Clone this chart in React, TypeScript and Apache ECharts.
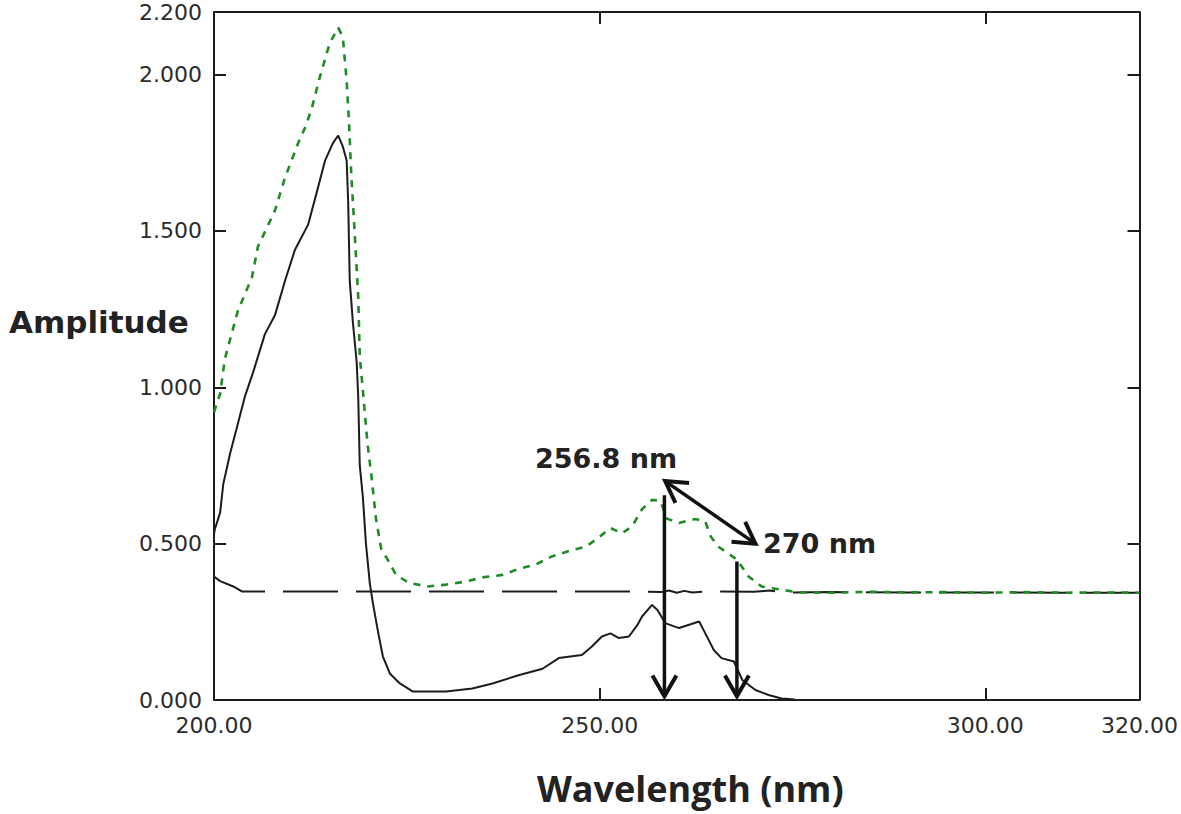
import React, { useEffect, useRef } from "react";
import * as echarts from "echarts";

// ---- data ----
const xTicks = [200, 250, 300, 320];
const xInnerTicks = [250, 300];
const yTicks = [0, 0.5, 1.0, 1.5, 2.0, 2.2];
const yInnerTicks = [0.5, 1.0, 1.5, 2.0];

const blackSolid: number[][] = [
  [200, 0.53], [200.1, 0.545], [200.8, 0.6], [201.2, 0.69], [202.1, 0.79], [202.9, 0.865],
  [204.0, 0.97], [205.1, 1.05], [206.6, 1.17], [207.9, 1.23], [209.2, 1.34], [210.5, 1.44],
  [212.2, 1.52], [213.5, 1.64], [214.4, 1.725], [215.4, 1.78], [216.1, 1.805], [216.7, 1.77],
  [217.2, 1.725], [217.4, 1.59], [217.6, 1.34], [218.0, 1.21], [218.5, 1.08], [218.7, 0.97],
  [218.9, 0.75], [219.3, 0.65], [219.7, 0.5], [220.2, 0.374], [220.6, 0.31], [221.3, 0.214],
  [221.9, 0.139], [222.8, 0.085], [224.1, 0.053], [225.8, 0.027], [230.1, 0.027], [233.5, 0.037],
  [236.1, 0.053], [239.6, 0.08], [242.6, 0.1], [244.7, 0.134], [247.7, 0.144], [249.0, 0.171],
  [250.3, 0.203], [251.4, 0.213], [252.5, 0.198], [253.8, 0.203], [254.9, 0.24], [255.5, 0.267],
  [256.8, 0.304], [257.5, 0.288], [258.5, 0.246], [260.3, 0.23], [262.9, 0.251], [263.7, 0.213],
  [264.8, 0.16], [265.8, 0.134], [267.4, 0.123], [268.5, 0.064], [270.2, 0.032], [271.9, 0.016],
  [273.6, 0.005], [275.3, 0.002],
];

const greenDotted: number[][] = [
  [200, 0.92], [200.8, 0.98], [201.4, 1.09], [203.1, 1.245], [204.9, 1.35], [205.7, 1.45],
  [207.9, 1.565], [209.2, 1.67], [210.9, 1.78], [211.8, 1.83], [212.6, 1.885], [213.7, 1.99],
  [215.0, 2.1], [216.1, 2.15], [216.7, 2.12], [217.2, 1.98], [217.5, 1.85], [217.8, 1.68],
  [218.2, 1.51], [218.7, 1.29], [218.9, 1.1], [219.3, 0.99], [219.9, 0.82], [220.4, 0.72],
  [221.0, 0.58], [221.7, 0.48], [222.5, 0.45], [223.6, 0.4], [225.3, 0.374], [227.7, 0.363],
  [230.1, 0.369], [232.7, 0.379], [234.8, 0.392], [237.4, 0.4], [239.6, 0.42], [241.7, 0.433],
  [243.9, 0.46], [246.5, 0.48], [248.2, 0.49], [249.9, 0.52], [251.4, 0.55], [252.9, 0.533],
  [254.2, 0.555], [255.5, 0.61], [256.8, 0.64], [257.9, 0.636], [258.7, 0.58], [260.3, 0.566],
  [262.4, 0.579], [263.7, 0.571], [264.4, 0.523], [265.4, 0.49], [267.8, 0.449], [269.3, 0.395],
  [271.0, 0.363], [273.2, 0.354], [275.8, 0.344], [280, 0.343], [285, 0.346], [290, 0.344],
  [295, 0.345], [300, 0.343], [305, 0.345], [310, 0.343], [315, 0.344], [320, 0.343],
];

const blackDashed: number[][] = [
  [200, 0.395], [200.8, 0.38], [202.5, 0.363], [203.6, 0.347], [230, 0.347], [255, 0.347],
  [258, 0.345], [259, 0.35], [260, 0.343], [261, 0.349], [262, 0.344], [264, 0.347],
  [270, 0.346], [272, 0.35], [274, 0.343], [280, 0.345], [290, 0.344], [300, 0.344],
  [310, 0.343], [320, 0.343],
];

// arrows: [x1, y1, x2, y2, doubleHeaded]
const arrows: number[][] = [
  [258.4, 0.655, 258.4, 0.012, 0],
  [267.8, 0.443, 267.8, 0.012, 0],
  [258.5, 0.7, 270.2, 0.5, 1],
];

const labelFont = "'DejaVu Sans', sans-serif";
const ink = "#1c1c1c";

export default function App() {
  const ref = useRef<HTMLDivElement>(null);
  useEffect(() => {
    if (!ref.current) return;
    const chart = echarts.init(ref.current, undefined, { renderer: "svg" });
    const axisLine = { show: true, onZero: false, lineStyle: { color: ink, width: 2 } };
    const tickStyle = { color: ink, width: 2 };
    const option: any = {
      animation: false,
      backgroundColor: "#fff",
      grid: { left: 214, right: 39, top: 12, bottom: 114, containLabel: false },
      xAxis: [
        {
          type: "value",
          min: 200,
          max: 320,
          position: "bottom",
          axisLine,
          axisTick: { show: true, inside: true, length: 12, customValues: xInnerTicks, lineStyle: tickStyle },
          axisLabel: {
            show: true,
            customValues: xTicks,
            formatter: (v: number) => v.toFixed(2),
            fontFamily: labelFont,
            fontSize: 22,
            color: "#2b2b2b",
            margin: 14,
          },
          splitLine: { show: false },
        },
        {
          type: "value",
          min: 200,
          max: 320,
          position: "top",
          axisLine,
          axisTick: { show: true, inside: true, length: 12, customValues: xInnerTicks, lineStyle: tickStyle },
          axisLabel: { show: false },
          splitLine: { show: false },
        },
      ],
      yAxis: [
        {
          type: "value",
          min: 0,
          max: 2.2,
          position: "left",
          axisLine,
          axisTick: { show: true, inside: true, length: 12, customValues: yInnerTicks, lineStyle: tickStyle },
          axisLabel: {
            show: true,
            customValues: yTicks,
            formatter: (v: number) => v.toFixed(3),
            fontFamily: labelFont,
            fontSize: 22,
            color: "#2b2b2b",
            margin: 12,
          },
          splitLine: { show: false },
        },
        {
          type: "value",
          min: 0,
          max: 2.2,
          position: "right",
          axisLine,
          axisTick: { show: true, inside: true, length: 12, customValues: yInnerTicks, lineStyle: tickStyle },
          axisLabel: { show: false },
          splitLine: { show: false },
        },
      ],
      series: [
        {
          name: "baseline",
          type: "line",
          data: blackDashed,
          showSymbol: false,
          lineStyle: { color: ink, width: 2, type: [55, 18] },
          z: 2,
        },
        {
          name: "green",
          type: "line",
          data: greenDotted,
          showSymbol: false,
          lineStyle: { color: "#1f8b24", width: 2.6, type: [7, 7] },
          z: 3,
        },
        {
          name: "black",
          type: "line",
          data: blackSolid,
          showSymbol: false,
          lineStyle: { color: ink, width: 2 },
          z: 4,
        },
        {
          name: "arrows",
          type: "custom",
          data: arrows,
          silent: true,
          clip: false,
          z: 10,
          encode: { x: [0, 2], y: [1, 3] },
          renderItem: (params: any, api: any) => {
            const p1 = api.coord([api.value(0), api.value(1)]);
            const p2 = api.coord([api.value(2), api.value(3)]);
            const dbl = api.value(4);
            const head = (tip: number[], from: number[]) => {
              const ang = Math.atan2(from[1] - tip[1], from[0] - tip[0]);
              const L = 24;
              const a = Math.PI / 6;
              return {
                type: "polyline",
                shape: {
                  points: [
                    [tip[0] + L * Math.cos(ang + a), tip[1] + L * Math.sin(ang + a)],
                    tip,
                    [tip[0] + L * Math.cos(ang - a), tip[1] + L * Math.sin(ang - a)],
                  ],
                },
                style: { stroke: "#111", fill: null, lineWidth: 4, lineJoin: "miter" },
              };
            };
            const children: any[] = [
              {
                type: "line",
                shape: { x1: p1[0], y1: p1[1], x2: p2[0], y2: p2[1] },
                style: { stroke: "#111", lineWidth: 3.5 },
              },
              head(p2, p1),
            ];
            if (dbl) children.push(head(p1, p2));
            return { type: "group", children };
          },
        },
      ],
      graphic: [
        {
          type: "text",
          left: 9,
          top: 306,
          style: { text: "Amplitude", font: "bold 31px 'DejaVu Sans', sans-serif", fill: "#222" },
        },
        {
          type: "text",
          left: 537,
          top: 770,
          style: { text: "Wavelength (nm)", font: "bold 36px 'Open Sans', sans-serif", fill: "#222" },
        },
        {
          type: "text",
          left: 535,
          top: 445,
          style: { text: "256.8 nm", font: "bold 27px 'DejaVu Sans', sans-serif", fill: "#222" },
        },
        {
          type: "text",
          left: 763,
          top: 530,
          style: { text: "270 nm", font: "bold 27px 'DejaVu Sans', sans-serif", fill: "#222" },
        },
      ],
    };
    chart.setOption(option);
    return () => chart.dispose();
  }, []);
  return (
    <div
      ref={ref}
      style={{ position: "fixed", left: 0, top: 0, width: 1181, height: 814, background: "#fff" }}
    />
  );
}
